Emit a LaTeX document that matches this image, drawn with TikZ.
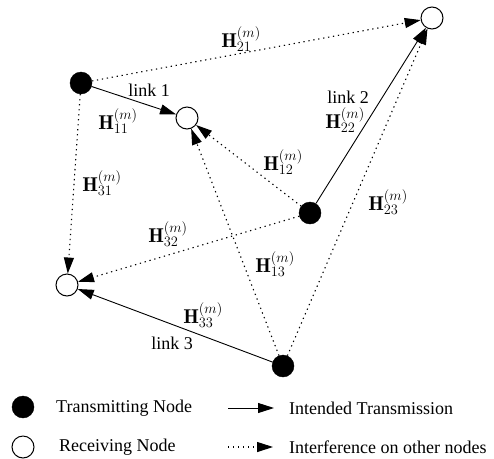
\documentclass[tikz,border=0pt]{standalone}
\usepackage{fontspec}
\newfontfamily\tfont{Liberation Serif}
\usetikzlibrary{arrows.meta}
\begin{document}
\begin{tikzpicture}[x=1pt,y=-1pt,
  tx/.style={circle,fill=black,draw=black,minimum size=22pt,inner sep=0pt},
  rx/.style={circle,fill=white,draw=black,line width=1pt,minimum size=22pt,inner sep=0pt},
  tip/.style={-{Triangle[length=16pt,width=10pt]}},
  intended/.style={tip,line width=0.9pt},
  interf/.style={tip,line width=1.1pt,dash pattern=on 1.3pt off 3.7pt},
  lbl/.style={font=\fontsize{18}{22}\selectfont\tfont,inner sep=0pt},
  chan/.style={font=\fontsize{20}{24}\selectfont,inner sep=0pt}]
\useasboundingbox (0,0) rectangle (494,458);

% transmitters and receivers
\node[tx] (t1) at (81,83) {};
\node[tx] (t2) at (310,213) {};
\node[tx] (t3) at (283,366) {};
\node[rx] (r1) at (187,118) {};
\node[rx] (r2) at (432,18) {};
\node[rx] (r3) at (67,285) {};

% intended links
\draw[intended] (t1) -- (r1);
\draw[intended] (t2) -- (r2);
\draw[intended] (t3) -- (r3);

% interference paths
\draw[interf] (t1) -- (r2);
\draw[interf] (t1) -- (r3);
\draw[interf] (t2) -- (r1);
\draw[interf] (t2) -- (r3);
\draw[interf] (t3) -- (r1);
\draw[interf] (t3) -- (r2);

% channel and link labels
\node[lbl] (l1) at (149,90) {link 1};
\node[lbl] (l2) at (348,97) {link 2};
\node[lbl] (l3) at (172,343) {link 3};
\node[chan] (h11) at (118,121) {$\mathbf{H}_{11}^{(m)}$};
\node[chan] (h21) at (241,39) {$\mathbf{H}_{21}^{(m)}$};
\node[chan] (h31) at (102,183) {$\mathbf{H}_{31}^{(m)}$};
\node[chan] (h12) at (283,162) {$\mathbf{H}_{12}^{(m)}$};
\node[chan] (h22) at (345,120) {$\mathbf{H}_{22}^{(m)}$};
\node[chan] (h32) at (168,234) {$\mathbf{H}_{32}^{(m)}$};
\node[chan] (h13) at (275,264) {$\mathbf{H}_{13}^{(m)}$};
\node[chan] (h23) at (388,202) {$\mathbf{H}_{23}^{(m)}$};
\node[chan] (h33) at (203,315) {$\mathbf{H}_{33}^{(m)}$};

% legend
\node[tx] (ktx) at (23,407) {};
\node[lbl,anchor=west] (ktxt) at (56,408) {Transmitting Node};
\node[rx] (krx) at (23,447) {};
\node[lbl,anchor=west] (krxt) at (59,447) {Receiving Node};
\coordinate (ka1) at (228,408);
\coordinate (kb1) at (274,408);
\coordinate (ka2) at (228,447);
\coordinate (kb2) at (273,447);
\draw[intended] (ka1) -- (kb1);
\draw[interf] (ka2) -- (kb2);
\node[lbl,anchor=west] (kint) at (289,408) {Intended Transmission};
\node[lbl,anchor=west] (kinf) at (289,447) {Interference on other nodes};
\end{tikzpicture}
\end{document}
